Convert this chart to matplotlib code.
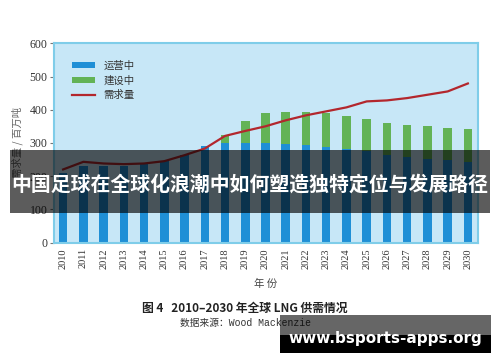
import matplotlib
matplotlib.use("Agg")
import matplotlib.pyplot as plt
from matplotlib.patches import Patch, Rectangle
from matplotlib.lines import Line2D
import numpy as np

plt.rcParams['font.family'] = ['Liberation Serif', 'Noto Sans CJK SC', 'DejaVu Sans']

years = [str(y) for y in range(2010, 2031)]
operating = [210, 230, 230, 230, 235, 245, 265, 292, 300, 300, 299, 298, 294, 289, 283, 276, 264, 258, 253, 248, 243]
construction = [0, 0, 0, 0, 0, 0, 0, 0, 24, 66, 92, 96, 99, 101, 98, 97, 97, 97, 98, 97, 98]
demand = [220, 243, 238, 236, 238, 245, 263, 283, 321, 336, 350, 368, 383, 395, 407, 425, 428, 435, 445, 455, 479]
legend_labels = ['运营中', '建设中', '需求量']
yticks = [0, 100, 200, 300, 400, 500, 600]

c_blue = '#1f8fd6'
c_green = '#63b356'
c_red = '#b3272d'
c_bg = '#c7e7f7'
c_spine = '#7fcde9'

fig = plt.figure(figsize=(5.0, 3.62), dpi=100)
ax = fig.add_axes([54/500, 1-242.5/362, (478-54)/500, (242.5-43.3)/362])
ax.set_facecolor(c_bg)

x = np.arange(len(years))
ax.bar(x, operating, width=0.42, color=c_blue, zorder=2)
ax.bar(x, construction, width=0.42, bottom=operating, color=c_green, zorder=2)
ax.plot(x, demand, color=c_red, lw=1.6, zorder=3)

ax.set_xlim(-0.45, 20.5)
ax.set_ylim(0, 600)
ax.set_yticks(yticks)
ax.set_yticklabels([str(v) for v in yticks], fontsize=8.5, color='#333333', family='Liberation Serif')
ax.set_xticks(x)
ax.set_xticklabels(years, rotation=90, fontsize=7.5, color='#333333', family='Liberation Serif')
ax.tick_params(axis='y', length=3, width=0.8, color='#777777', pad=1.5)
ax.tick_params(axis='x', length=0, pad=4)
for s in ax.spines.values():
    s.set_color(c_spine)
    s.set_linewidth(1.5)

ax.set_xlabel('年 份', fontsize=7.5, color='#444444', family=['Noto Sans CJK SC'], labelpad=7)
fig.text(17/500, 1-142/362, '需求量 / 百万吨', rotation=90, ha='center', va='center',
         fontsize=7.5, color='#666666', family=['Noto Sans CJK SC'])

handles = [Patch(facecolor=c_blue, edgecolor='none'),
           Patch(facecolor=c_green, edgecolor='none'),
           Line2D([0], [0], color=c_red, lw=1.6)]
leg = ax.legend(handles, legend_labels, loc='upper left', bbox_to_anchor=(0.03, 0.94),
                frameon=False, handlelength=2.2, handleheight=0.6,
                labelspacing=0.45, handletextpad=0.8, borderpad=0,
                prop={'family': ['Noto Sans CJK SC'], 'size': 7.5})
for t in leg.get_texts():
    t.set_color('#333333')

fig.text(245/500, 1-308/362, '图 4   2010–2030 年全球 LNG 供需情况', ha='center', va='center',
         fontsize=8.5, fontweight='bold', color='#222222', family=['Noto Sans CJK SC', 'DejaVu Sans'])
fig.text(245/500, 1-323/362, '数据来源：Wood Mackenzie', ha='center', va='center',
         fontsize=7, color='#333333', family=['Liberation Mono', 'Noto Sans CJK SC'])

# overlay band with title
fig.patches.append(Rectangle((10/500, 1-213/362), 480/500, 63/362, transform=fig.transFigure,
                             facecolor='black', alpha=0.64, edgecolor='none', zorder=10))
fig.text(250/500, 1-184/362, '中国足球在全球化浪潮中如何塑造独特定位与发展路径', ha='center', va='center',
         fontsize=14.3, fontweight='bold', color='white', family=['Noto Sans CJK SC'], zorder=11)

# watermark
fig.patches.append(Rectangle((280/500, 1-353/362), 211/500, 38/362, transform=fig.transFigure,
                             facecolor='black', alpha=0.6, edgecolor='none', zorder=10))
fig.patches.append(Rectangle((280/500, 1-353/362), 211/500, 18/362, transform=fig.transFigure,
                             facecolor='black', alpha=1.0, edgecolor='none', zorder=10))
fig.text(385/500, 1-339/362, 'www.bsports-apps.org', ha='center', va='center',
         fontsize=11, fontweight='bold', color='white', family=['DejaVu Sans'], zorder=11)

fig.savefig('out.png', dpi=100)
